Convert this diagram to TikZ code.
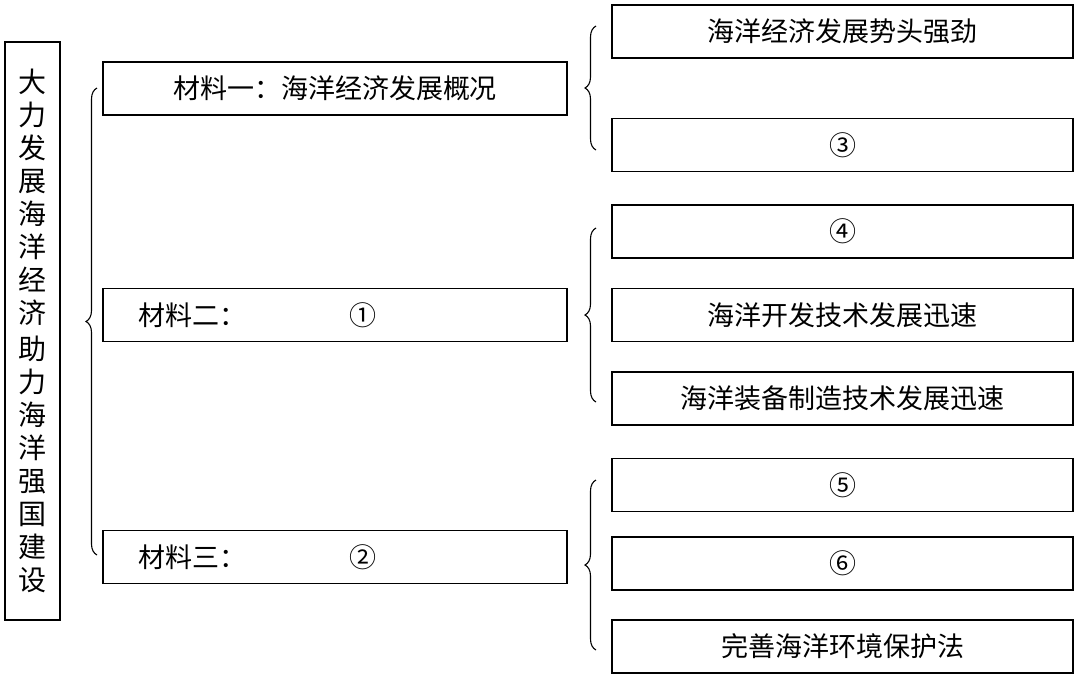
\documentclass[tikz,border=0pt]{standalone}
\usepackage{fontspec}
\setmainfont{Noto Sans CJK SC}
\usetikzlibrary{decorations.pathreplacing}
\begin{document}
\begin{tikzpicture}[x=1pt,y=-1pt,
  bx/.style={draw,line width=1.3pt,minimum height=53pt,inner sep=0pt,font=\fontsize{27}{30}\selectfont},
  rb/.style={bx,minimum width=461pt},
  mb/.style={bx,minimum width=464pt},
  tx/.style={font=\fontsize{27}{30}\selectfont},
  br/.style={line width=1.1pt,decorate,decoration={brace,amplitude=11pt}}]
\useasboundingbox (0,0) rectangle (1080,678);
\fill[white] (0,0) rectangle (1080,678);
\node[draw,line width=1.3pt,minimum width=55pt,minimum height=578pt,inner sep=0pt] (L) at (32.5,331) {};
\node[font=\fontsize{28}{33}\selectfont,align=center] (Lt) at (32.5,331) {大\\力\\发\\展\\海\\洋\\经\\济\\[3pt]助\\力\\海\\洋\\强\\国\\建\\设};
\node[mb] (m1) at (335,88.5) {材料一：海洋经济发展概况};
\node[mb] (m2) at (335,315) {};
\node[tx,anchor=west] (m2a) at (135,315) {材料二：};
\node[tx] (m2b) at (363,315) {①};
\node[mb] (m3) at (335,557) {};
\node[tx,anchor=west] (m3a) at (135,557) {材料三：};
\node[tx] (m3b) at (363,557) {②};
\node[rb] (r1) at (842.5,31.5) {海洋经济发展势头强劲};
\node[rb] (r2) at (842.5,145) {③};
\node[rb] (r3) at (842.5,231.5) {④};
\node[rb] (r4) at (842.5,315) {海洋开发技术发展迅速};
\node[rb] (r5) at (842.5,398.5) {海洋装备制造技术发展迅速};
\node[rb] (r6) at (842.5,485) {⑤};
\node[rb] (r7) at (842.5,563.5) {⑥};
\node[rb] (r8) at (842.5,646.5) {完善海洋环境保护法};
\coordinate (a1) at (97,555); \coordinate (a2) at (97,88);
\draw[br] (a1) -- (a2);
\coordinate (b1) at (596,150); \coordinate (b2) at (596,26);
\draw[br] (b1) -- (b2);
\coordinate (c1) at (596,402); \coordinate (c2) at (596,228);
\draw[br] (c1) -- (c2);
\coordinate (d1) at (596,650); \coordinate (d2) at (596,480);
\draw[br] (d1) -- (d2);
\end{tikzpicture}
\end{document}
